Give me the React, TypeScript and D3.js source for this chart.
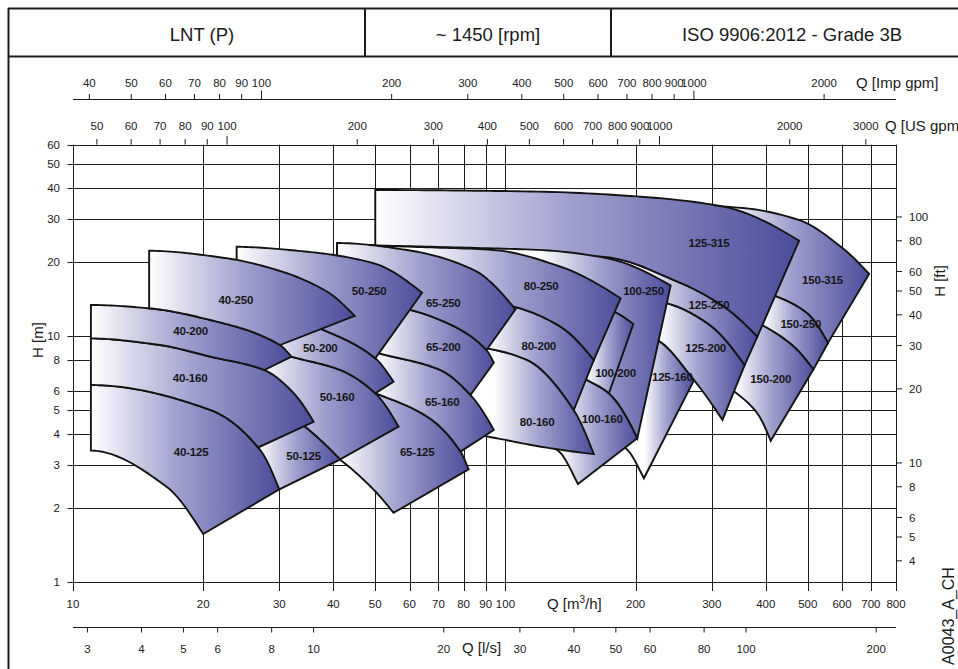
import React from "react";
import * as d3 from "d3";

type Pt = [number, number];

// ---------- axis ticks ----------
const Q_TICKS = [10, 20, 30, 40, 50, 60, 70, 80, 90, 100, 200, 300, 400, 500, 600, 700, 800];
const H_TICKS = [1, 2, 3, 4, 5, 6, 8, 10, 20, 30, 40, 50, 60];
const FT_TICKS = [4, 5, 6, 8, 10, 20, 30, 40, 50, 60, 80, 100];
const USGPM_TICKS = [50, 60, 70, 80, 90, 100, 200, 300, 400, 500, 600, 700, 800, 900, 1000, 2000, 3000];
const IMPGPM_TICKS = [40, 50, 60, 70, 80, 90, 100, 200, 300, 400, 500, 600, 700, 800, 900, 1000, 2000];
const LPS_TICKS = [3, 4, 5, 6, 8, 10, 20, 30, 40, 50, 60, 80, 100, 200];

const US_GPM_PER_M3H = 4.40287;
const IMP_GPM_PER_M3H = 3.66615;
const M3H_PER_LPS = 3.6;
const M_PER_FT = 0.3048;

const HEADER = ["LNT (P)", "~ 1450 [rpm]", "ISO 9906:2012 - Grade 3B"];

// ---------- impeller curves  [Q m3/h, H m] ----------
const C40a: Pt[] = [[11.0, 3.42], [16.5, 2.43], [20.0, 1.567]];
const C40b: Pt[] = [[11.0, 6.32], [20.8, 5.0], [27.1, 3.44], [30.0, 2.38]];
const C40c: Pt[] = [[11.0, 9.79], [15.9, 9.19], [20.8, 8.24], [27.7, 7.27], [32.4, 5.85], [36.0, 4.48]];
const C40d: Pt[] = [[11.0, 13.37], [15.0, 12.96], [20.8, 11.61], [30.1, 9.19], [32.0, 8.24]];
const C40e: Pt[] = [[15.0, 22.23], [22.7, 20.7], [29.6, 18.55], [38.7, 15.14], [44.8, 12.06]];

const C50a: Pt[] = [[23.9, 2.95], [30.0, 2.38]];
const C50b: Pt[] = [[23.9, 6.5], [34.4, 4.28], [41.5, 3.15]];
const C50c: Pt[] = [[23.9, 9.6], [32.0, 8.24], [41.5, 7.27], [50.0, 5.85], [56.6, 4.28]];
const C50d: Pt[] = [[23.9, 14.0], [37.6, 10.65], [50.0, 8.12], [55.1, 6.52]];
const C50e: Pt[] = [[23.9, 23.07], [34.75, 22.02], [49.6, 19.75], [64.15, 15.0]];

const C65a: Pt[] = [[40.8, 3.2], [49.6, 2.37], [55.1, 1.91]];
const C65b: Pt[] = [[40.8, 6.62], [50.0, 5.85], [65.9, 4.7], [78.7, 3.39], [82.2, 2.87]];
const C65c: Pt[] = [[40.8, 9.63], [50.5, 8.55], [70.7, 7.27], [83.0, 5.76], [94.0, 4.15]];
const C65d: Pt[] = [[40.8, 14.54], [60.3, 12.76], [70.7, 11.61], [90.4, 8.77], [94.0, 7.79]];
const C65e: Pt[] = [[40.8, 23.88], [59.2, 22.37], [84.5, 18.55], [105.5, 12.84]];

const C80a: Pt[] = [[40.8, 5.0], [94.0, 3.86], [120.5, 3.55], [160.1, 3.31]];
const C80b: Pt[] = [[40.8, 10.6], [90.7, 8.91], [112.2, 7.99], [143.9, 5.0], [160.1, 3.31]];
const C80c: Pt[] = [[40.8, 16.9], [104.5, 13.16], [134.1, 10.91], [160.1, 7.99]];
const C80d: Pt[] = [[40.8, 23.55], [63.6, 23.0], [94.0, 22.37], [134.1, 19.13], [184.6, 14.23]];

const C100z: Pt[] = [[40.8, 5.5], [94.0, 4.15], [131.8, 3.44], [147.1, 2.5]];
const C100a: Pt[] = [[40.8, 11.0], [134.1, 7.5], [154.6, 6.62], [173.5, 5.85], [201.8, 3.84]];
const C100b: Pt[] = [[40.8, 17.6], [134.1, 15.0], [181.4, 12.37], [197.5, 11.19]];
const C100c: Pt[] = [[40.8, 23.45], [94.0, 22.7], [120.5, 22.37], [172.0, 20.7], [241.0, 16.04]];

const C125a: Pt[] = [[50.0, 6.0], [120.5, 4.6], [189.6, 3.5], [209.0, 2.64]];
const C125b: Pt[] = [[50.0, 14.0], [172.0, 11.2], [224.5, 9.63], [272.9, 6.62], [317.5, 4.56]];
const C125c: Pt[] = [[50.0, 17.4], [172.0, 15.0], [236.8, 13.58], [293.1, 11.27], [357.4, 7.62]];
const C125d: Pt[] = [[50.0, 22.6], [120.5, 21.6], [172.0, 20.89], [245.3, 16.89], [320.2, 13.16], [382.4, 9.94]];
const C125e: Pt[] = [[50.0, 39.22], [120.5, 38.61], [205.4, 36.84], [320.2, 33.54], [477.5, 24.4]];

const C150a: Pt[] = [[120.5, 9.5], [272.9, 7.5], [340.8, 5.88], [382.4, 4.85], [410.5, 3.75]];
const C150b: Pt[] = [[120.5, 15.0], [320.2, 13.0], [396.1, 10.98], [465.0, 9.05], [515.6, 7.32]];
const C150c: Pt[] = [[120.5, 20.0], [320.2, 17.0], [421.7, 14.54], [499.4, 12.37], [557.3, 9.39]];
const C150d: Pt[] = [[120.5, 35.7], [349.9, 33.2], [477.5, 29.61], [596.4, 23.07], [693.5, 17.87]];

// ---------- pump tiles ----------
// top/bottom curve, left flow, flow at top-right & bottom-right corners,
// flow where the colour fade starts, label anchor [Q, H]
interface Tile { name: string; top: Pt[]; bot: Pt[]; qL: number; qT: number; qB: number; fade: number; label: Pt; }

const FAMILY_150: Tile[] = [
  { name: "150-200", top: C150b, bot: C150a, qL: 120.5, qT: 515.6, qB: 410.5, fade: 341, label: [410.6, 6.67] },
  { name: "150-250", top: C150c, bot: C150b, qL: 120.5, qT: 557.3, qB: 515.6, fade: 396, label: [481.9, 11.19] },
  { name: "150-315", top: C150d, bot: C150c, qL: 120.5, qT: 693.5, qB: 557.3, fade: 320, label: [540.8, 16.89] },
];
const FAMILY_125: Tile[] = [
  { name: "125-160", top: C125b, bot: C125a, qL: 50, qT: 272.9, qB: 209.0, fade: 209, label: [243.2, 6.83] },
  { name: "125-200", top: C125c, bot: C125b, qL: 50, qT: 357.4, qB: 317.5, fade: 228, label: [290.4, 8.91] },
  { name: "125-250", top: C125d, bot: C125c, qL: 50, qT: 382.4, qB: 357.4, fade: 205, label: [295.6, 13.37] },
  { name: "125-315", top: C125e, bot: C125d, qL: 50, qT: 477.5, qB: 382.4, fade: 50, label: [295.6, 23.95] },
];
const FAMILY_100: Tile[] = [
  { name: "100-160", top: C100a, bot: C100z, qL: 40.8, qT: 201.8, qB: 147.1, fade: 134, label: [167.4, 4.6] },
  { name: "100-250", top: C100c, bot: C100a, qL: 40.8, qT: 241.0, qB: 201.8, fade: 120.5, label: [208.6, 15.28] },
  { name: "100-200", top: C100b, bot: C100a, qL: 40.8, qT: 197.5, qB: 173.5, fade: 155, label: [179.7, 7.09] },
];
const FAMILY_80: Tile[] = [
  { name: "80-160", top: C80b, bot: C80a, qL: 40.8, qT: 160.1, qB: 160.1, fade: 94, label: [118.4, 4.48] },
  { name: "80-200", top: C80c, bot: C80b, qL: 40.8, qT: 160.1, qB: 143.9, fade: 90.7, label: [119.4, 9.13] },
  { name: "80-250", top: C80d, bot: C80c, qL: 40.8, qT: 184.6, qB: 160.1, fade: 63.6, label: [120.9, 16.02] },
];
const FAMILY_65: Tile[] = [
  { name: "65-125", top: C65b, bot: C65a, qL: 40.8, qT: 82.2, qB: 55.1, fade: 41.5, label: [62.5, 3.39] },
  { name: "65-160", top: C65c, bot: C65b, qL: 40.8, qT: 94.0, qB: 78.7, fade: 50, label: [71.4, 5.41] },
  { name: "65-200", top: C65d, bot: C65c, qL: 40.8, qT: 94.0, qB: 83.0, fade: 50.5, label: [71.8, 9.05] },
  { name: "65-250", top: C65e, bot: C65d, qL: 40.8, qT: 105.5, qB: 90.4, fade: 40.8, label: [71.8, 13.66] },
];
const FAMILY_50: Tile[] = [
  { name: "50-125", top: C50b, bot: C50a, qL: 23.9, qT: 41.5, qB: 30.0, fade: 26.8, label: [34.13, 3.26] },
  { name: "50-160", top: C50c, bot: C50b, qL: 23.9, qT: 56.6, qB: 41.5, fade: 27.0, label: [40.8, 5.67] },
  { name: "50-200", top: C50d, bot: C50c, qL: 23.9, qT: 55.1, qB: 50.0, fade: 27.7, label: [37.3, 8.91] },
  { name: "50-250", top: C50e, bot: C50d, qL: 23.9, qT: 64.15, qB: 50.0, fade: 23.9, label: [48.4, 15.28] },
];
const FAMILY_40: Tile[] = [
  { name: "40-125", top: C40b, bot: C40a, qL: 11.0, qT: 30.0, qB: 20.0, fade: 11, label: [18.76, 3.39] },
  { name: "40-160", top: C40c, bot: C40b, qL: 11.0, qT: 36.0, qB: 26.8, fade: 11, label: [18.66, 6.77] },
  { name: "40-200", top: C40d, bot: C40c, qL: 11.0, qT: 32.0, qB: 27.7, fade: 11, label: [18.7, 10.48] },
  { name: "40-250", top: C40e, bot: C40d, qL: 15.0, qT: 44.8, qB: 30.1, fade: 15, label: [23.8, 14.01] },
];

const TILES: Tile[] = [...FAMILY_150, ...FAMILY_125, ...FAMILY_100, ...FAMILY_80, ...FAMILY_65, ...FAMILY_50, ...FAMILY_40];

// monotone cubic (PCHIP) interpolation of y(x) in pixel space
function makeInterp(px: Pt[]) {
  const n = px.length;
  const xs = px.map((p) => p[0]);
  const ys = px.map((p) => p[1]);
  if (n === 2) {
    const s = (ys[1] - ys[0]) / (xs[1] - xs[0]);
    return (x: number) => ys[0] + s * (x - xs[0]);
  }
  const h: number[] = [];
  const d: number[] = [];
  for (let k = 0; k < n - 1; k++) {
    h[k] = xs[k + 1] - xs[k];
    d[k] = (ys[k + 1] - ys[k]) / h[k];
  }
  const m: number[] = new Array(n).fill(0);
  for (let k = 1; k < n - 1; k++) {
    if (d[k - 1] * d[k] <= 0) m[k] = 0;
    else {
      const w1 = 2 * h[k] + h[k - 1];
      const w2 = h[k] + 2 * h[k - 1];
      m[k] = (w1 + w2) / (w1 / d[k - 1] + w2 / d[k]);
    }
  }
  const endSlope = (h0: number, h1: number, d0: number, d1: number) => {
    let s = ((2 * h0 + h1) * d0 - h0 * d1) / (h0 + h1);
    if (Math.sign(s) !== Math.sign(d0)) s = 0;
    else if (Math.sign(d0) !== Math.sign(d1) && Math.abs(s) > Math.abs(3 * d0)) s = 3 * d0;
    return s;
  };
  m[0] = endSlope(h[0], h[1], d[0], d[1]);
  m[n - 1] = endSlope(h[n - 2], h[n - 3], d[n - 2], d[n - 3]);
  return (x: number) => {
    if (x <= xs[0]) return ys[0] + m[0] * (x - xs[0]);
    if (x >= xs[n - 1]) return ys[n - 1] + m[n - 1] * (x - xs[n - 1]);
    let k = 0;
    while (k < n - 2 && x > xs[k + 1]) k++;
    const t = (x - xs[k]) / h[k];
    const t2 = t * t, t3 = t2 * t;
    return (2 * t3 - 3 * t2 + 1) * ys[k] + (t3 - 2 * t2 + t) * h[k] * m[k] +
      (-2 * t3 + 3 * t2) * ys[k + 1] + (t3 - t2) * h[k] * m[k + 1];
  };
}

const FONT = "'Liberation Sans', Arial, Helvetica, sans-serif";
const INK = "#1b1b1b";

export default function App() {
  const x = d3.scaleLog().domain([10, 800]).range([73, 896]);
  const y = d3.scaleLog().domain([1, 60]).range([582, 144.6]);
  const x0 = x(10), x1 = x(800), yTop = y(60);

  const sample = (curve: Pt[], qa: number, qb: number, n = 60): Pt[] => {
    const f = makeInterp(curve.map(([q, hh]) => [x(q), y(hh)] as Pt));
    const xa = x(qa), xb = x(qb);
    const out: Pt[] = [];
    for (let i = 0; i <= n; i++) {
      const xx = xa + ((xb - xa) * i) / n;
      out.push([xx, f(xx)]);
    }
    return out;
  };
  const line = d3.line<Pt>();

  const tiles = TILES.map((t, i) => {
    const top = sample(t.top, t.qL, t.qT);
    const bot = sample(t.bot, t.qB, t.qL);
    const d = line([...top, ...bot]) + "Z";
    return {
      ...t, d, id: `grad${i}`,
      gx1: x(t.fade), gx2: Math.max(x(t.qT), x(t.qB)),
    };
  });

  const yImp = 99.5;
  const yLps = 627.5;

  return (
    <div style={{ position: "absolute", left: 0, top: 0, width: 958, height: 669, background: "#fff" }}>
      <svg width={958} height={669} viewBox="0 0 958 669" style={{ display: "block", fontFamily: FONT }}>
        <rect x={0} y={0} width={958} height={669} fill="#fff" />
        {/* frame & header */}
        <g stroke={INK} strokeWidth={2} fill="none">
          <line x1={8} y1={8.5} x2={958} y2={8.5} />
          <line x1={8.5} y1={8} x2={8.5} y2={669} />
          <line x1={8} y1={56.5} x2={958} y2={56.5} />
          <line x1={365} y1={8} x2={365} y2={56.5} />
          <line x1={611} y1={8} x2={611} y2={56.5} />
        </g>
        <g fontSize={18.5} fill={INK} textAnchor="middle">
          <text x={202} y={40.5}>{HEADER[0]}</text>
          <text x={488} y={40.5}>{HEADER[1]}</text>
          <text x={792} y={40.5}>{HEADER[2]}</text>
        </g>

        {/* grid */}
        <g stroke={INK} strokeWidth={1} fill="none">
          {H_TICKS.map((v) => (
            <line key={"h" + v} x1={67.5} x2={x1} y1={Math.round(y(v)) + 0.5} y2={Math.round(y(v)) + 0.5} />
          ))}
          {Q_TICKS.map((v) => (
            <line key={"q" + v} x1={Math.round(x(v)) + 0.5} x2={Math.round(x(v)) + 0.5} y1={yTop} y2={591} />
          ))}
          {FT_TICKS.map((v) => (
            <line key={"f" + v} x1={x1} x2={x1 + 6} y1={y(v * M_PER_FT)} y2={y(v * M_PER_FT)} />
          ))}
          {USGPM_TICKS.map((v) => (
            <line key={"u" + v} x1={x(v / US_GPM_PER_M3H)} x2={x(v / US_GPM_PER_M3H)} y1={yTop}
              y2={yTop - (v === 100 || v === 1000 ? 8.5 : 5.5)} />
          ))}
          <line x1={x0} x2={x1} y1={yImp} y2={yImp} />
          {IMPGPM_TICKS.map((v) => (
            <line key={"i" + v} x1={x(v / IMP_GPM_PER_M3H)} x2={x(v / IMP_GPM_PER_M3H)} y1={yImp}
              y2={yImp - (v === 100 || v === 1000 ? 9 : 5.5)} />
          ))}
          <line x1={x0} x2={x1} y1={yLps} y2={yLps} />
          {LPS_TICKS.map((v) => (
            <line key={"l" + v} x1={x(v * M3H_PER_LPS)} x2={x(v * M3H_PER_LPS)} y1={yLps} y2={yLps + 5} />
          ))}
        </g>

        {/* tiles */}
        <defs>
          {tiles.map((t) => (
            <linearGradient key={t.id} id={t.id} gradientUnits="userSpaceOnUse" x1={t.gx1} x2={t.gx2} y1={0} y2={0}>
              <stop offset="0" stopColor="#ffffff" />
              <stop offset="0.45" stopColor="#a2a2cf" />
              <stop offset="1" stopColor="#4b4c9a" />
            </linearGradient>
          ))}
        </defs>
        <g stroke="#141414" strokeWidth={1.9} strokeLinejoin="miter" strokeMiterlimit={6}>
          {tiles.map((t) => (
            <path key={t.name} d={t.d} fill={`url(#${t.id})`} />
          ))}
        </g>
        <g fontSize={11.5} fontWeight="bold" fill="#161616" textAnchor="middle" letterSpacing={-0.2}>
          {tiles.map((t) => (
            <text key={"t" + t.name} x={x(t.label[0])} y={y(t.label[1])} dy="0.36em">{t.name}</text>
          ))}
        </g>

        {/* tick labels */}
        <g fontSize={11.5} fill={INK}>
          {H_TICKS.map((v) => (
            <text key={"hl" + v} x={60} y={y(v)} dy="0.36em" textAnchor="end">{v}</text>
          ))}
          {FT_TICKS.map((v) => (
            <text key={"fl" + v} x={909} y={y(v * M_PER_FT)} dy="0.36em">{v}</text>
          ))}
          {Q_TICKS.map((v) => (
            <text key={"ql" + v} x={x(v)} y={608} textAnchor="middle">{v}</text>
          ))}
          {LPS_TICKS.map((v) => (
            <text key={"ll" + v} x={x(v * M3H_PER_LPS)} y={652.5} textAnchor="middle">{v}</text>
          ))}
          {USGPM_TICKS.map((v) => (
            <text key={"ul" + v} x={x(v / US_GPM_PER_M3H)} y={130} textAnchor="middle">{v}</text>
          ))}
          {IMPGPM_TICKS.map((v) => (
            <text key={"il" + v} x={x(v / IMP_GPM_PER_M3H)} y={87} textAnchor="middle">{v}</text>
          ))}
        </g>

        {/* axis titles */}
        <g fontSize={15} fill={INK}>
          <text x={856} y={87.5}>Q [Imp gpm]</text>
          <text x={885} y={130.5}>Q [US gpm]</text>
          <text x={547} y={608.5}>Q [m<tspan fontSize={10} dy={-6}>3</tspan><tspan dy={6}>/h]</tspan></text>
          <text x={462} y={653}>Q [l/s]</text>
          <text transform="translate(38,340) rotate(-90)" textAnchor="middle" dy="0.36em">H [m]</text>
          <text transform="translate(940,281) rotate(-90)" textAnchor="middle" dy="0.36em">H [ft]</text>
          <text transform="translate(948.5,616) rotate(-90)" textAnchor="middle" dy="0.36em" fontSize={16}>A0043_A_CH</text>
        </g>
      </svg>
    </div>
  );
}
